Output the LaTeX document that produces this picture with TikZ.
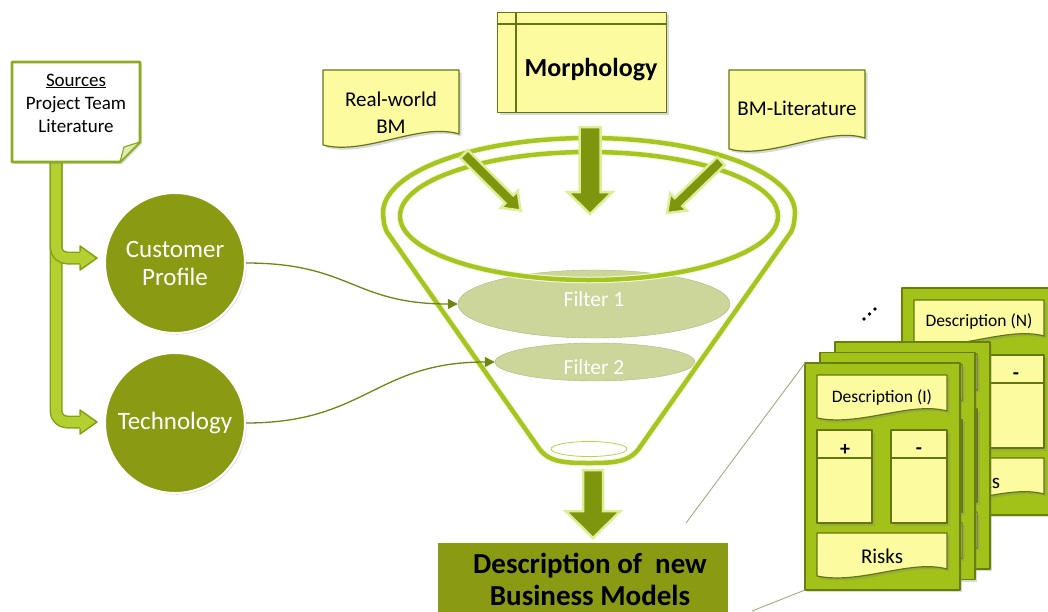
\documentclass[tikz,border=0pt]{standalone}
\usepackage{fontspec}
\setmainfont{Carlito}
\usetikzlibrary{arrows.meta,shapes.geometric,shadows}

\definecolor{bmOlive}{RGB}{138,154,18}
\definecolor{bmArrow}{RGB}{126,150,14}
\definecolor{bmGlow}{RGB}{222,238,150}
\definecolor{bmLime}{RGB}{165,198,32}
\definecolor{bmBar}{RGB}{180,208,48}
\definecolor{bmBarEdge}{RGB}{130,162,22}
\definecolor{bmNoteEdge}{RGB}{138,172,32}
\definecolor{bmYellow}{RGB}{252,251,160}
\definecolor{bmEdge}{RGB}{100,118,16}
\definecolor{bmCard}{RGB}{162,194,26}
\definecolor{bmCardEdge}{RGB}{104,128,10}
\definecolor{bmFilter}{RGB}{204,214,154}
\definecolor{bmLink}{RGB}{110,134,18}
\definecolor{bmZoom}{RGB}{165,168,128}

\tikzset{
  txt/.style={inner sep=0pt, align=center},
  notebox/.style={fill=white, draw=bmNoteEdge, line width=2.8pt,
    drop shadow={shadow xshift=2pt, shadow yshift=-2pt, opacity=0.25}},
  notefold/.style={fill=bmLime!35!white, draw=bmNoteEdge, line width=1.2pt},
  sourcebar/.style={draw=bmBarEdge, line width=1.5pt, double=bmBar,
    double distance=10pt, rounded corners=11pt},
  barhead/.style={fill=bmBar},
  baredge/.style={draw=bmBarEdge, line width=1.5pt},
  bmcircle/.style={circle, fill=bmOlive, draw=white, line width=2pt,
    minimum size=140pt, inner sep=0pt, text=white, align=center,
    font=\fontsize{25}{28}\selectfont,
    drop shadow={shadow xshift=1.5pt, shadow yshift=-1.5pt, opacity=0.25}},
  filter/.style={ellipse, fill=bmFilter, draw=bmFilter!85!black, line width=0.4pt,
    inner sep=0pt},
  filtertext/.style={txt, text=white, font=\fontsize{21.5}{22}\selectfont},
  funnelline/.style={draw=bmLime, line width=4.5pt,
    preaction={draw=bmGlow!35!white, line width=6.5pt}},
  link/.style={draw=bmLink, line width=1.3pt, -{Triangle[length=10pt, width=10pt]}},
  blockarr/.style={fill=bmArrow, draw=bmGlow, line width=2.5pt, line join=miter},
  yellowbox/.style={fill=bmYellow, draw=bmEdge, line width=1.2pt,
    drop shadow={shadow xshift=2.5pt, shadow yshift=-2.5pt, opacity=0.3}},
  boxline/.style={draw=bmEdge, line width=1.2pt},
  cardbody/.style={fill=bmCard, draw=bmCardEdge, line width=1.5pt,
    drop shadow={shadow xshift=2pt, shadow yshift=-2pt, opacity=0.3}},
  resultbox/.style={fill=bmOlive, inner sep=0pt, anchor=north west,
    minimum width=290pt, minimum height=80pt},
  zoomline/.style={draw=bmZoom, line width=0.9pt},
}

% block arrow: style, tail, angle, length, half shaft, half head, head length
\newcommand\bmblockarrow[7]{%
  \begin{scope}[shift={#2}, rotate=#3]
    \filldraw[#1] (0,-#5) -- ({#4-#7},-#5) -- ({#4-#7},-#6) -- (#4,0)
      -- ({#4-#7},#6) -- ({#4-#7},#5) -- (0,#5) -- cycle;
  \end{scope}}

% arrow head at the end of a source bar branch
\newcommand\bmbarhead[1]{%
  \fill[barhead] (80,{#1-12}) -- (97,#1) -- (80,{#1+12}) -- cycle;
  \draw[baredge] (80,{#1-6.5}) -- (80,{#1-12}) -- (97,#1) -- (80,{#1+12}) -- (80,{#1+6.5});}

% evaluation card: name, position, contents
\newcommand\bmcard[3]{%
  \begin{scope}[shift={#2}]
    \coordinate (#1-nw) at (0,0);
    \coordinate (#1-sw) at (0,227);
    \filldraw[cardbody] (0,0) rectangle (155,227);
    \filldraw[yellowbox] (12,12) -- (142,12) -- (142,48)
      .. controls (105,38) and (55,64) .. (12,55) -- cycle;
    \filldraw[yellowbox] (12,67) rectangle (67,160);
    \draw[boxline] (12,95) -- (67,95);
    \filldraw[yellowbox] (86,67) rectangle (142,160);
    \draw[boxline] (86,95) -- (142,95);
    \filldraw[yellowbox] (12,170) -- (142,170) -- (142,206)
      .. controls (105,196) and (55,222) .. (12,213) -- cycle;
    #3
  \end{scope}}

\newcommand\bmcardtext[2]{%
  \node[txt, font=\fontsize{17.5}{18}\selectfont] (#1-title) at (77,34) {#2};
  \node[txt, font=\bfseries\fontsize{20}{20}\selectfont] (#1-pro) at (40,87) {+};
  \node[txt, font=\bfseries\fontsize{20}{20}\selectfont] (#1-con) at (114,88) {-};
  \node[txt, font=\fontsize{21}{21}\selectfont] (#1-risk) at (77,193) {Risks};}

\begin{document}
\begin{tikzpicture}[x=1pt, y=-1pt, line join=round]
\useasboundingbox (0,0) rectangle (1048,611);

% ---------- sources and the two input perspectives ----------
\coordinate (srcfoot) at (56,160);
\coordinate (barCP) at (82,258);
\coordinate (barTE) at (82,422);
\draw[sourcebar] (srcfoot) |- (barTE);
\draw[sourcebar] (srcfoot) |- (barCP);
\bmbarhead{258}
\bmbarhead{422}

\filldraw[notebox] (12,62) -- (140,62) -- (140,142) -- (120,162) -- (12,162) -- cycle;
\filldraw[notefold] (140,142) -- (124,147) -- (120,162) -- cycle;
\node[txt, font=\fontsize{19}{23}\selectfont] (src) at (76,103)
  {\underline{Sources}\\Project Team\\Literature};

\node[bmcircle] (cp) at (175,263) {Customer\\Profile};
\node[bmcircle] (te) at (175,423) {Technology};

% ---------- funnel with filters ----------
\node[filter, minimum width=272pt, minimum height=68pt] (f1) at (594,304) {};
\node[filter, minimum width=200pt, minimum height=38pt] (f2) at (595,362) {};
\node[filtertext] (f1t) at (594,299) {Filter 1};
\node[filtertext] (f2t) at (594,367) {Filter 2};

\draw[funnelline] (538,447) -- (387,232) .. controls (384,225) .. (383,213)
  .. controls (383,171.6) and (475,138) .. (589,138)
  .. controls (703,138) and (795,171.6) .. (795,213)
  .. controls (794,225) .. (791,232) -- (640,447)
  .. controls (630,462) and (615,463) .. (589,463)
  .. controls (563,463) and (548,462) .. (538,447) -- cycle;
\draw[funnelline] (589,216) ellipse [x radius=189, y radius=64];
\draw[bmLime!80, line width=0.8pt] (589,449) ellipse [x radius=38, y radius=7.5];

\draw[link] (cp.east) .. controls +(105,0) and +(-105,0) .. (f1.west);
\draw[link] (te.east) .. controls +(120,0) and +(-120,0) .. (f2.west);

% ---------- inputs from above ----------
\filldraw[yellowbox] (323,70) -- (459,70) -- (459,134)
  .. controls (420,122) and (365,156) .. (323,145) -- cycle;
\node[txt, font=\fontsize{21}{27}\selectfont] (rw) at (391,113) {Real-world\\BM};

\filldraw[yellowbox] (729,70) -- (865,70) -- (865,138)
  .. controls (826,126) and (771,160) .. (729,149) -- cycle;
\node[txt, font=\fontsize{21}{21}\selectfont] (bl) at (797,108) {BM-Literature};

\node[yellowbox, minimum width=169pt, minimum height=100pt, inner sep=0pt,
  anchor=north west] (morph) at (497,12) {};
\draw[boxline] ([yshift=-12pt]morph.north west) -- ([yshift=-12pt]morph.north east);
\draw[boxline] ([xshift=19pt]morph.north west) -- ([xshift=19pt]morph.south west);
\node[txt, font=\bfseries\fontsize{26}{26}\selectfont] (morphT) at (591,70) {Morphology};

\coordinate (rwTail) at (464,154);
\coordinate (moTail) at (590,127);
\coordinate (blTail) at (721,161);
\coordinate (outTail) at (593,470);
\bmblockarrow{blockarr}{(rwTail)}{-45}{80}{5.5}{12}{16}
\bmblockarrow{blockarr}{(moTail)}{-90}{87}{10.5}{22.5}{22}
\bmblockarrow{blockarr}{(blTail)}{-136}{75}{5.5}{12}{16}
\bmblockarrow{blockarr}{(outTail)}{-90}{68}{10}{27.5}{27}

% ---------- result ----------
\node[resultbox] (res) at (438,543) {};
\node[txt, font=\bfseries\fontsize{29}{32}\selectfont] (resT) at (590,579)
  {Description of~ new\\Business Models};

% ---------- stack of business model descriptions ----------
\bmcard{cN}{(902,288)}{\bmcardtext{cN}{Description (N)}}
\bmcard{cC}{(835,342)}{}
\bmcard{cB}{(820,352.5)}{}
\bmcard{cI}{(805,363)}{\bmcardtext{cI}{Description (I)}}

\coordinate (zA) at (686,523);
\coordinate (zB) at (752,611);
\draw[zoomline] (cI-nw) -- (zA);
\draw[zoomline] (cI-sw) -- (zB);

\fill (864,319) circle (1.8) (869.5,314) circle (1.8) (875,309) circle (1.8);
\end{tikzpicture}
\end{document}
